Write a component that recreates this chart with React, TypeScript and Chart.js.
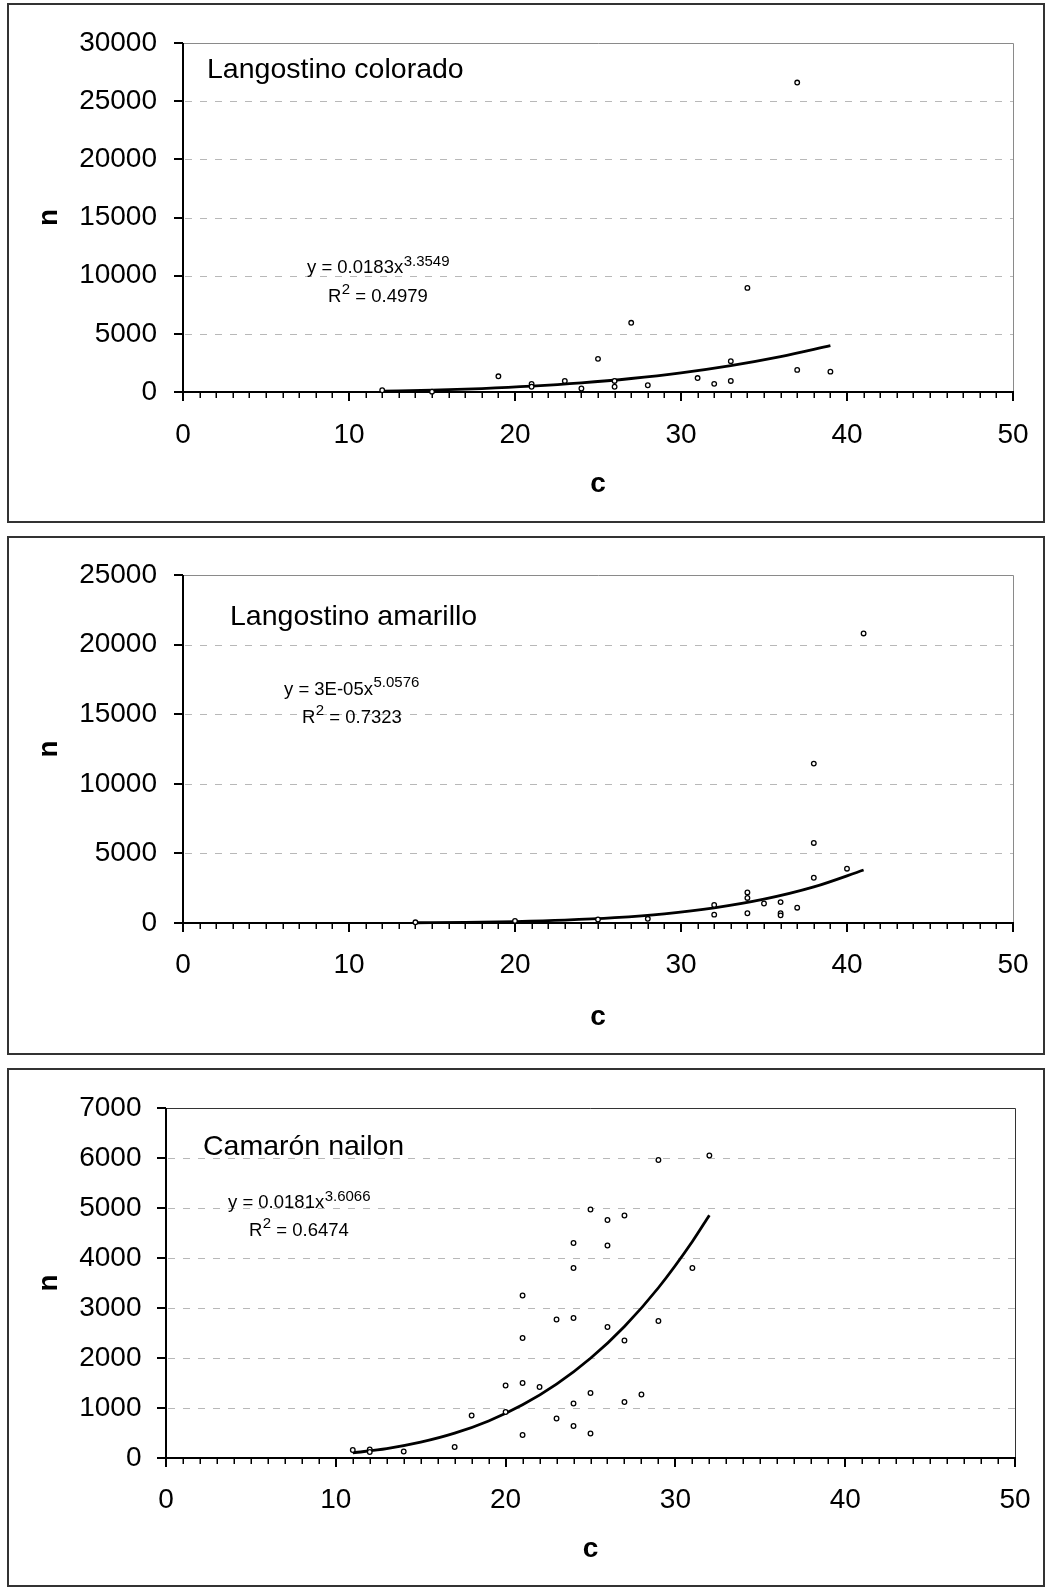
import React, { useEffect, useRef } from "react";
import { Chart, registerables } from "chart.js";

Chart.register(...registerables);

const FONT = "'Liberation Sans', Arial, Helvetica, sans-serif";

// ---------- shared x axis ----------
const xTicks = [0, 10, 20, 30, 40, 50];
const xMinorStep = 1;

// ---------- Langostino colorado ----------
const coloradoTitle = "Langostino colorado";
const coloradoEq = "y = 0.0183x";
const coloradoExp = "3.3549";
const coloradoR2 = "0.4979";
const coloradoYTicks = [0, 5000, 10000, 15000, 20000, 25000, 30000];
const coloradoC = [12, 15, 19, 21, 21, 23, 24, 25, 26, 26, 27, 28, 31, 32, 33, 33, 34, 37, 37, 39];
const coloradoN = [150, 30, 1350, 700, 450, 950, 300, 2850, 950, 450, 5950, 580, 1200, 700, 2650, 950, 8950, 26600, 1900, 1750];
const coloradoTrendC = [12, 15, 18, 21, 24, 27, 30, 33, 36, 39];
const coloradoTrendN = [76, 162, 298, 499, 782, 1161, 1653, 2276, 3047, 3986];

// ---------- Langostino amarillo ----------
const amarilloTitle = "Langostino amarillo";
const amarilloEq = "y = 3E-05x";
const amarilloExp = "5.0576";
const amarilloR2 = "0.7323";
const amarilloYTicks = [0, 5000, 10000, 15000, 20000, 25000];
const amarilloC = [14, 20, 25, 28, 32, 32, 34, 34, 34, 35, 36, 36, 36, 37, 38, 38, 38, 40, 41];
const amarilloN = [50, 150, 250, 300, 1300, 600, 2200, 1800, 700, 1400, 1500, 700, 550, 1100, 11450, 5750, 3250, 3900, 20800];
const amarilloTrendC = [14, 17, 20, 23, 26, 29, 32, 35, 38, 41];
const amarilloTrendN = [17, 44, 101, 204, 380, 660, 1086, 1708, 2589, 3804];

// ---------- Camarón nailon ----------
const nailonTitle = "Camarón nailon";
const nailonEq = "y = 0.0181x";
const nailonExp = "3.6066";
const nailonR2 = "0.6474";
const nailonYTicks = [0, 1000, 2000, 3000, 4000, 5000, 6000, 7000];
const nailonC = [11, 12, 12, 14, 17, 18, 20, 20, 21, 21, 21, 21, 22, 23, 23, 24, 24, 24, 24, 24, 25, 25, 25, 26, 26, 26, 27, 27, 27, 28, 29, 29, 31, 32];
const nailonN = [160, 170, 120, 130, 220, 850, 1450, 920, 3250, 2400, 1500, 460, 1420, 2770, 790, 4300, 3800, 2800, 1090, 640, 4970, 1300, 490, 4760, 4250, 2620, 4850, 2350, 1120, 1270, 5960, 2740, 3800, 6050];
const nailonTrendC = [11, 13, 15, 17, 19, 21, 23, 25, 27, 29, 31, 32];
const nailonTrendN = [103, 188, 316, 496, 741, 1063, 1476, 1994, 2631, 3405, 4330, 4855];

const xLabel = "c";
const yLabel = "n";

type Spec = {
  top: number; canvasH: number; frameH: number;
  plotTop: number; plotBottom: number; yW: number; padRight: number;
  yTickPad: number; xTickPad: number; cPad: number; nPad: number;
  boxColor: string;
  c: number[]; n: number[]; tc: number[]; tn: number[]; yTicks: number[];
  title: string; eq: string; exp: string; r2: string;
  titleX: number; titleY: number; eqX: number; eqY: number; r2X: number; r2Y: number;
};

const panels: Spec[] = [
  {
    top: 3, canvasH: 520, frameH: 520, plotTop: 40, plotBottom: 389, yW: 183, padRight: 32,
    yTickPad: 26, xTickPad: 26, cPad: 22, nPad: 32.7, boxColor: "#8a8a8a",
    c: coloradoC, n: coloradoN, tc: coloradoTrendC, tn: coloradoTrendN, yTicks: coloradoYTicks,
    title: coloradoTitle, eq: coloradoEq, exp: coloradoExp, r2: coloradoR2,
    titleX: 207, titleY: 65, eqX: 307, eqY: 263.7, r2X: 328, r2Y: 292.5,
  },
  {
    top: 536, canvasH: 519, frameH: 519, plotTop: 39, plotBottom: 387, yW: 183, padRight: 32,
    yTickPad: 26, xTickPad: 25, cPad: 21, nPad: 32.7, boxColor: "#8a8a8a",
    c: amarilloC, n: amarilloN, tc: amarilloTrendC, tn: amarilloTrendN, yTicks: amarilloYTicks,
    title: amarilloTitle, eq: amarilloEq, exp: amarilloExp, r2: amarilloR2,
    titleX: 230, titleY: 79, eqX: 284, eqY: 152, r2X: 302, r2Y: 180.5,
  },
  {
    top: 1068, canvasH: 519, frameH: 519, plotTop: 40, plotBottom: 390, yW: 166, padRight: 30,
    yTickPad: 24.5, xTickPad: 25, cPad: 21, nPad: 32.7, boxColor: "#333333",
    c: nailonC, n: nailonN, tc: nailonTrendC, tn: nailonTrendN, yTicks: nailonYTicks,
    title: nailonTitle, eq: nailonEq, exp: nailonExp, r2: nailonR2,
    titleX: 203, titleY: 77, eqX: 228, eqY: 133.7, r2X: 249, r2Y: 161,
  },
];

const deco = {
  id: "deco",
  beforeDatasetsDraw(chart: any, _args: any, o: any) {
    const { ctx, chartArea: a } = chart;
    const xs = chart.scales.x;
    const ys = chart.scales.y;
    const L = Math.round(a.left), R = Math.round(a.right), T = Math.round(a.top), B = Math.round(a.bottom);
    ctx.save();
    // dashed grid lines
    ctx.strokeStyle = "#b8b8b8";
    ctx.lineWidth = 1;
    ctx.setLineDash([7, 8]);
    for (const t of ys.ticks) {
      if (t.value <= ys.min || t.value >= ys.max) continue;
      const py = Math.round(ys.getPixelForValue(t.value)) + 0.5;
      ctx.beginPath();
      ctx.moveTo(L + 2, py);
      ctx.lineTo(R, py);
      ctx.stroke();
    }
    ctx.setLineDash([]);
    // top & right plot border
    ctx.strokeStyle = o.boxColor;
    ctx.lineWidth = 1;
    ctx.beginPath();
    ctx.moveTo(L, T + 0.5);
    ctx.lineTo(R + 0.5, T + 0.5);
    ctx.lineTo(R + 0.5, B);
    ctx.stroke();
    // y ticks
    ctx.strokeStyle = "#000";
    ctx.lineWidth = 2;
    for (const t of ys.ticks) {
      const py = Math.round(ys.getPixelForValue(t.value));
      ctx.beginPath();
      ctx.moveTo(L - 9, py);
      ctx.lineTo(L, py);
      ctx.stroke();
    }
    // x ticks (major + minor)
    for (let v = xs.min; v <= xs.max + 1e-9; v += xMinorStep) {
      const major = Math.abs(v % 10) < 1e-9;
      const px = Math.round(xs.getPixelForValue(v)) + (major ? 0 : 0.25);
      ctx.lineWidth = major ? 2 : 1.5;
      ctx.beginPath();
      ctx.moveTo(px, B);
      ctx.lineTo(px, B + (major ? 9 : 6));
      ctx.stroke();
    }
    // axes
    ctx.lineWidth = 2;
    ctx.beginPath();
    ctx.moveTo(L, T);
    ctx.lineTo(L, B + 1);
    ctx.moveTo(L - 1, B);
    ctx.lineTo(R + 1, B);
    ctx.stroke();
    ctx.restore();
  },
  afterDraw(chart: any, _args: any, o: any) {
    const { ctx } = chart;
    ctx.save();
    ctx.fillStyle = "#000";
    ctx.textBaseline = "alphabetic";
    ctx.textAlign = "left";
    // title
    ctx.font = `28.5px ${FONT}`;
    ctx.fillText(o.title, o.titleX, o.titleY + 0.36 * 28.5);
    // equation
    const s = 18.5, ss = 15;
    ctx.font = `${s}px ${FONT}`;
    let base = o.eqY + 0.36 * s;
    ctx.fillText(o.eq, o.eqX, base);
    let w = ctx.measureText(o.eq).width;
    ctx.font = `${ss}px ${FONT}`;
    ctx.fillText(o.exp, o.eqX + w + 0.5, base - 7.7);
    // R squared
    ctx.font = `${s}px ${FONT}`;
    base = o.r2Y + 0.36 * s;
    ctx.fillText("R", o.r2X, base);
    w = ctx.measureText("R").width;
    ctx.font = `${ss}px ${FONT}`;
    ctx.fillText("2", o.r2X + w + 0.5, base - 7.7);
    const w2 = ctx.measureText("2").width;
    ctx.font = `${s}px ${FONT}`;
    ctx.fillText(" = " + o.r2, o.r2X + w + 0.5 + w2, base);
    ctx.restore();
  },
};

// invisible tick marks: they only reserve the gap between axis and labels
const hiddenTickGrid = (len: number) => ({
  display: true,
  drawOnChartArea: false,
  drawTicks: true,
  tickLength: len,
  tickColor: "rgba(0,0,0,0)",
  color: "rgba(0,0,0,0)",
  lineWidth: 0,
});

function buildConfig(s: Spec): any {
  return {
    type: "scatter",
    data: {
      datasets: [
        {
          type: "scatter",
          data: s.c.map((c, i) => ({ x: c, y: s.n[i] })),
          pointStyle: "circle",
          pointRadius: 2.3,
          pointBorderWidth: 1.3,
          borderColor: "#000",
          backgroundColor: "#fff",
          clip: false,
          order: 0,
        },
        {
          type: "line",
          data: s.tc.map((c, i) => ({ x: c, y: s.tn[i] })),
          borderColor: "#000",
          borderWidth: 2.8,
          pointRadius: 0,
          showLine: true,
          fill: false,
          cubicInterpolationMode: "monotone",
          clip: false,
          order: 1,
        },
      ],
    },
    options: {
      responsive: false,
      animation: false,
      devicePixelRatio: 1,
      events: [],
      layout: { padding: { top: s.plotTop, right: s.padRight, bottom: 0, left: 0 } },
      plugins: {
        legend: { display: false },
        tooltip: { enabled: false },
        deco: {
          boxColor: s.boxColor,
          title: s.title, eq: s.eq, exp: s.exp, r2: s.r2,
          titleX: s.titleX, titleY: s.titleY, eqX: s.eqX, eqY: s.eqY, r2X: s.r2X, r2Y: s.r2Y,
        },
      },
      scales: {
        x: {
          type: "linear",
          position: "bottom",
          min: xTicks[0],
          max: xTicks[xTicks.length - 1],
          afterBuildTicks: (sc: any) => { sc.ticks = xTicks.map((v) => ({ value: v })); },
          afterFit: (sc: any) => { sc.height = s.canvasH - s.plotBottom; },
          ticks: {
            callback: (v: any) => String(v),
            font: { family: FONT, size: 28 },
            color: "#000",
            padding: 0,
            maxRotation: 0,
            autoSkip: false,
          },
          grid: hiddenTickGrid(s.xTickPad),
          border: { display: false },
          title: {
            display: true,
            text: xLabel,
            font: { family: FONT, size: 28, weight: "bold" },
            color: "#000",
            padding: { top: 0, bottom: s.cPad },
          },
        },
        y: {
          type: "linear",
          position: "left",
          min: s.yTicks[0],
          max: s.yTicks[s.yTicks.length - 1],
          afterBuildTicks: (sc: any) => { sc.ticks = s.yTicks.map((v) => ({ value: v })); },
          afterFit: (sc: any) => { sc.width = s.yW; },
          ticks: {
            callback: (v: any) => String(v),
            font: { family: FONT, size: 28 },
            color: "#000",
            padding: 0,
            autoSkip: false,
          },
          grid: hiddenTickGrid(s.yTickPad),
          border: { display: false },
          title: {
            display: true,
            text: yLabel,
            font: { family: FONT, size: 28, weight: "bold" },
            color: "#000",
            padding: { top: s.nPad, bottom: 0 },
          },
        },
      },
    },
    plugins: [deco],
  };
}

function Panel({ spec }: { spec: Spec }) {
  const ref = useRef<HTMLCanvasElement | null>(null);
  useEffect(() => {
    const chart = new Chart(ref.current as HTMLCanvasElement, buildConfig(spec));
    return () => chart.destroy();
  }, [spec]);
  return (
    <>
      <canvas
        ref={ref}
        width={1045}
        height={spec.canvasH}
        style={{ position: "absolute", left: 0, top: spec.top, width: 1045, height: spec.canvasH }}
      />
      <div
        style={{
          position: "absolute",
          left: 7,
          top: spec.top,
          width: 1038,
          height: spec.frameH,
          border: "2px solid #333",
          boxSizing: "border-box",
          pointerEvents: "none",
        }}
      />
    </>
  );
}

export default function App() {
  return (
    <div style={{ position: "absolute", left: 0, top: 0, width: 1045, height: 1587, overflow: "hidden", background: "#fff" }}>
      {panels.map((p, i) => (
        <Panel key={i} spec={p} />
      ))}
    </div>
  );
}
